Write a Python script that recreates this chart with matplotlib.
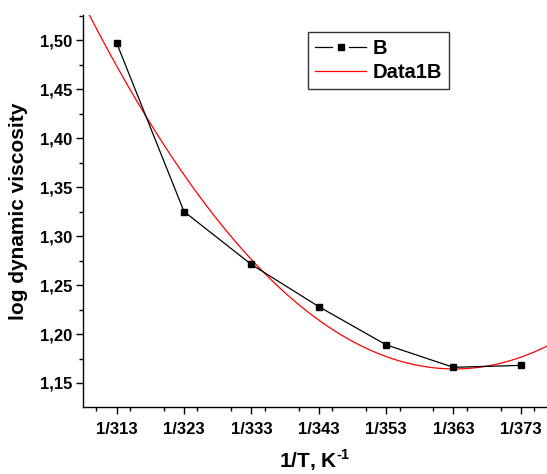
import numpy as np
import matplotlib
matplotlib.use("Agg")
import matplotlib.pyplot as plt
from matplotlib.ticker import MultipleLocator, FuncFormatter, FixedLocator
from matplotlib.legend_handler import HandlerLine2D
from matplotlib.lines import Line2D

T = [313, 323, 333, 343, 353, 363, 373]
tick_labels = ["1/313", "1/323", "1/333", "1/343", "1/353", "1/363", "1/373"]
log_visc = [1.497, 1.325, 1.271, 1.228, 1.189, 1.166, 1.168]

plt.rcParams['font.family'] = ['Liberation Sans', 'DejaVu Sans']
plt.rcParams['font.weight'] = 'bold'
plt.rcParams['mathtext.fontset'] = 'custom'
plt.rcParams['mathtext.rm'] = 'Liberation Sans:bold'
plt.rcParams['mathtext.bf'] = 'Liberation Sans:bold'


class GapLineHandler(HandlerLine2D):
    def create_artists(self, legend, orig_handle, xdescent, ydescent, width, height, fontsize, trans):
        y = (height - ydescent) / 2.0
        x0, x1 = -xdescent, -xdescent + width
        g = width * 0.17
        xm = (x0 + x1) / 2.0
        l1 = Line2D([x0, xm - g], [y, y], color='black', lw=0.9)
        l2 = Line2D([xm + g, x1], [y, y], color='black', lw=0.9)
        m = Line2D([xm], [y], color='black', marker='s', ms=5, ls='none')
        for a in (l1, l2, m):
            a.set_transform(trans)
        return [l1, l2, m]


fig = plt.figure(figsize=(5.47, 4.74), dpi=100)
ax = fig.add_axes([83/547, 1-407/474, 1-83/547, (407-15)/474])

coef = np.polyfit(T, log_visc, 2)
xf = np.linspace(305, 380, 300)
red, = ax.plot(xf, np.polyval(coef, xf), color='red', lw=0.9, label='Data1B', zorder=2)
blk, = ax.plot(T, log_visc, color='black', lw=0.9, marker='s', ms=5, label='B', zorder=3)

ax.set_xlim(308, 376.9)
ax.set_ylim(1.1255, 1.5256)

ax.xaxis.set_major_locator(FixedLocator(T))
ax.set_xticklabels(tick_labels)
ax.xaxis.set_minor_locator(MultipleLocator(5))
ax.yaxis.set_major_locator(MultipleLocator(0.05))
ax.yaxis.set_minor_locator(MultipleLocator(0.025))
ax.yaxis.set_major_formatter(FuncFormatter(lambda v, p: f"{v:.2f}".replace('.', ',')))

for s in ['top', 'right']:
    ax.spines[s].set_visible(False)
for s in ['left', 'bottom']:
    ax.spines[s].set_linewidth(1.0)

ax.tick_params(which='major', direction='out', length=5, width=1, labelsize=12, pad=3)
ax.tick_params(axis='x', which='major', pad=6)
ax.tick_params(which='minor', direction='out', length=3, width=1)
for lab in ax.get_xticklabels() + ax.get_yticklabels():
    lab.set_fontweight('bold')

ax.set_xlabel("1/T, K$^{\\text{-1}}$", fontsize=15, fontweight='bold', labelpad=7)
ax.set_ylabel("log dynamic viscosity", fontsize=15, fontweight='bold', labelpad=8)

leg = ax.legend([blk, red], ['B', 'Data1B'], loc='upper left',
                bbox_to_anchor=((308-83)/464, (407-32)/392), borderaxespad=0,
                frameon=True, fancybox=False, edgecolor='black', fontsize=14.5,
                handlelength=2.55, borderpad=0.35, labelspacing=0.25, handletextpad=0.3,
                handler_map={blk: GapLineHandler()})
leg.get_frame().set_linewidth(1.0)
for t in leg.get_texts():
    t.set_fontweight('bold')

fig.savefig("out.png", dpi=100)
